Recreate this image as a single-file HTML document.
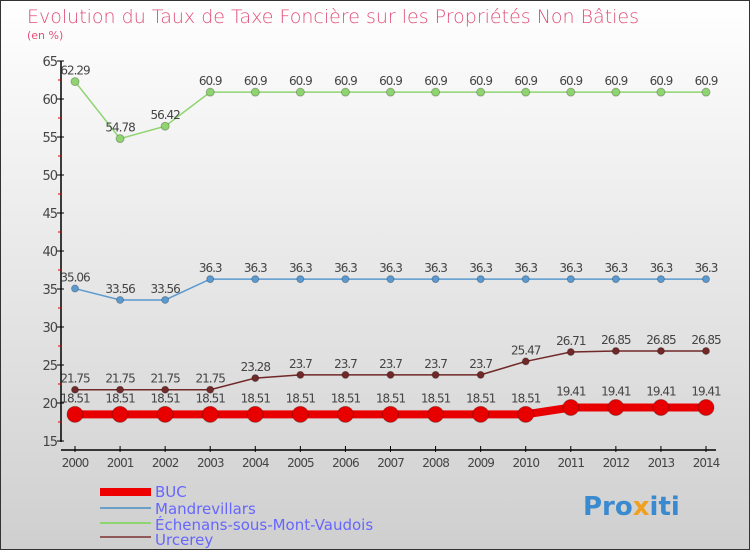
<!DOCTYPE html>
<html><head><meta charset="utf-8"><style>
body{margin:0;width:750px;height:550px;overflow:hidden;font-family:"DejaVu Sans","Liberation Sans",sans-serif}
</style></head><body>
<svg id="chart" width="750" height="550" xmlns="http://www.w3.org/2000/svg">
<defs><linearGradient id="bg" x1="0" y1="0" x2="0" y2="1"><stop offset="0" stop-color="#ffffff"/><stop offset="1" stop-color="#cfcfcf"/></linearGradient></defs>
<rect x="0.5" y="0.5" width="749" height="549" fill="url(#bg)" stroke="#333"/>
<text x="27" y="23" font-size="19" fill="#e0507a" font-family="DejaVu Sans,sans-serif" font-weight="200">Evolution du Taux de Taxe Foncière sur les Propriétés Non Bâties</text>
<text x="27" y="39" font-size="11" fill="#e0507a">(en %)</text>
<g id="axes"></g><g id="series"></g>
<g>
<rect x="100" y="488" width="51" height="8" fill="#e00"/>
<text x="155" y="497" font-size="15" fill="#6666ff">BUC</text>
<rect x="100" y="507" width="51" height="2" fill="#6aa0c8"/>
<text x="155" y="514" font-size="15" fill="#6666ff">Mandrevillars</text>
<rect x="100" y="522" width="51" height="2" fill="#8fd470"/>
<text x="155" y="530" font-size="15" fill="#6666ff">Échenans-sous-Mont-Vaudois</text>
<rect x="100" y="536" width="51" height="2" fill="#905858"/>
<text x="155" y="545" font-size="15" fill="#6666ff">Urcerey</text>
</g>
<text x="583" y="515" font-size="26" font-weight="bold" fill="#3a8ad0">Pro<tspan fill="#f0a020">x</tspan>iti</text>
</svg>
<script>
const years=[2000,2001,2002,2003,2004,2005,2006,2007,2008,2009,2010,2011,2012,2013,2014];
const yTicks=[15,20,25,30,35,40,45,50,55,60,65];
const buc=[18.51,18.51,18.51,18.51,18.51,18.51,18.51,18.51,18.51,18.51,18.51,19.41,19.41,19.41,19.41];
const mandrevillars=[35.06,33.56,33.56,36.3,36.3,36.3,36.3,36.3,36.3,36.3,36.3,36.3,36.3,36.3,36.3];
const echenans=[62.29,54.78,56.42,60.9,60.9,60.9,60.9,60.9,60.9,60.9,60.9,60.9,60.9,60.9,60.9];
const urcerey=[21.75,21.75,21.75,21.75,23.28,23.7,23.7,23.7,23.7,23.7,25.47,26.71,26.85,26.85,26.85];
const NS="http://www.w3.org/2000/svg";
const X=i=>75+i*(706-75)/(years.length-1);
const Y=v=>61+(65-v)*7.6;
function mk(p,tag,at){const e=document.createElementNS(NS,tag);for(const k in at)e.setAttribute(k,at[k]);p.appendChild(e);return e;}
const ax=document.getElementById('axes');
let l=mk(ax,'line',{x1:61,y1:Y(65),x2:61,y2:Y(15)+1,stroke:'#000','stroke-width':1.5});


l=mk(ax,'line',{x1:61,y1:450,x2:X(14)+10,y2:450,stroke:'#000','stroke-width':1.5});


yTicks.forEach((v,i)=>{
 mk(ax,'line',{x1:57,y1:Y(v),x2:64,y2:Y(v),stroke:'#000'});
 if(i<yTicks.length-1)mk(ax,'line',{x1:58,y1:Y(v+2.5),x2:62,y2:Y(v+2.5),stroke:'#d00'});
 const t=mk(ax,'text',{x:57,y:Y(v)+5,'font-size':13,fill:'#444','text-anchor':'end','letter-spacing':'-1'});
 t.textContent=v;
 
 
});
years.forEach((y,i)=>{
 mk(ax,'line',{x1:X(i),y1:446,x2:X(i),y2:452,stroke:'#000'});
 const t=mk(ax,'text',{x:X(i),y:467,'font-size':12,fill:'#444','text-anchor':'middle','letter-spacing':'-1'});
 t.textContent=y;
 
 
});
const sg=document.getElementById('series');
function series(data,name,color,w,r,labelDy){
 const g=mk(sg,'g',{});
 
 
 mk(g,'polyline',{points:data.map((v,i)=>X(i)+','+Y(v)).join(' '),fill:'none',stroke:color,'stroke-width':w});
 data.forEach((v,i)=>{
  const c=mk(g,'circle',{cx:X(i),cy:Y(v),r:r,fill:color,stroke:'rgba(0,0,0,0.25)'});
  
  
  const t=mk(g,'text',{x:X(i),y:Y(v)+labelDy,'font-size':12,fill:'#444','text-anchor':'middle','letter-spacing':'-1'});
  t.textContent=v;
  
  
 });
}
series(echenans,'echenans','#8fd470',1.5,4,-7);
series(mandrevillars,'mandrevillars','#5a9ad0',1.5,3.5,-7);
series(urcerey,'urcerey','#702828',1.5,3.5,-7);
series(buc,'buc','#e80000',8,8,-12);
</script>
</body></html>
